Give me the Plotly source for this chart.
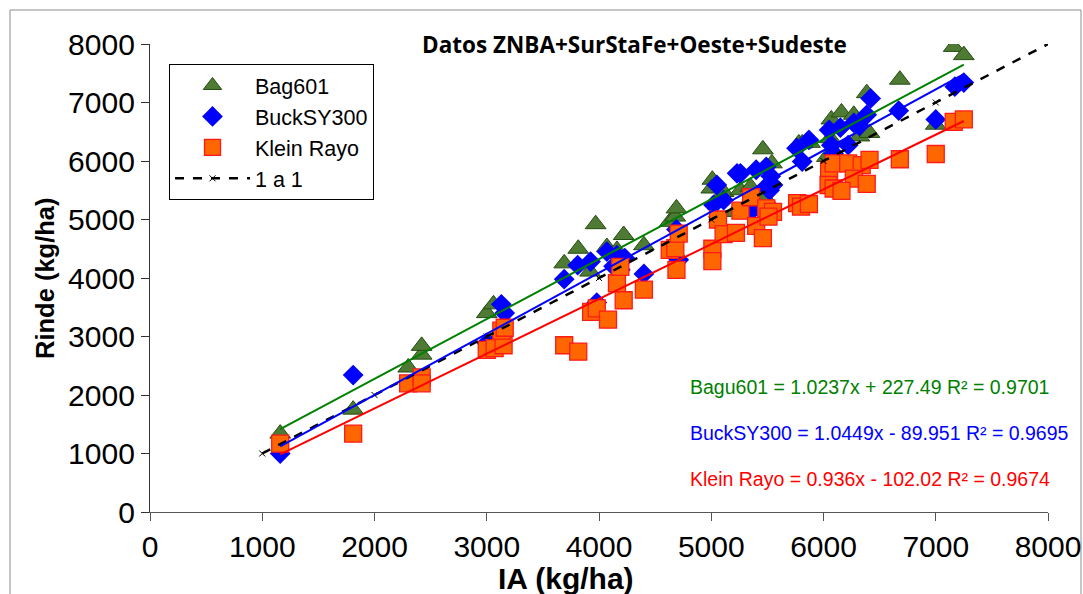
import numpy as np
import plotly.graph_objects as go

# ---------------- data ----------------
bag_x = [1160, 1810, 2300, 2420, 2420, 3000, 3060, 3690, 3815, 3920, 3970, 4070, 4160, 4220,
         4400, 4630, 4680, 4690, 5010, 5000, 5110, 5210, 5260, 5350, 5460, 5480, 5540, 5780,
         5810, 5880, 6030, 6060, 6070, 6160, 6270, 6320, 6410, 6385, 6680, 7000, 7160, 7250]
bag_y = [1340, 1750, 2470, 2690, 2840, 3400, 3550, 4250, 4500, 4110, 4920, 4530, 4480, 4735,
         4560, 4960, 5050, 5190, 5680, 5530, 5470, 5130, 5500, 5560, 6200, 5370, 5960, 6300,
         6300, 6310, 6070, 6390, 6710, 6830, 6790, 6420, 6480, 7160, 7390, 6620, 7950, 7810]

buck_x = [1160, 1810, 3000, 3060, 3130, 3160, 3690, 3810, 3925, 3980, 4070, 4130, 4160, 4190,
          4230, 4400, 4690, 4710, 5020, 5050, 5110, 5230, 5260, 5360, 5400, 5490, 5530, 5490,
          5520, 5550, 5760, 5810, 5870, 6050, 6070, 6090, 6150, 6220, 6270, 6320, 6385, 6420,
          6670, 7000, 7170, 7250]
buck_y = [1000, 2340, 2890, 2870, 3550, 3400, 3980, 4220, 4280, 3580, 4450, 4200, 4390, 4140,
          4340, 4070, 4830, 4310, 5250, 5590, 5330, 5790, 5790, 5150, 5850, 5900, 5740, 5560,
          5500, 5590, 6220, 5990, 6360, 6530, 6270, 6130, 6570, 6270, 6650, 6600, 6790, 7070,
          6860, 6710, 7270, 7340]

klein_x = [1160, 1810, 2300, 2420, 2420, 3000, 3070, 3150, 3130, 3160, 3690, 3815, 3930, 3980,
           4080, 4160, 4190, 4220, 4400, 4630, 4680, 4690, 4710, 5010, 5010, 5060, 5110, 5220,
           5260, 5355, 5400, 5460, 5490, 5550, 5510, 5765, 5800, 5870, 6050, 6090, 6220, 6340,
           6410, 6270, 6385, 6045, 6090, 6160, 6680, 7000, 7160, 7250]
klein_y = [1170, 1340, 2200, 2300, 2200, 2770, 2800, 2850, 3100, 3150, 2850, 2740, 3420, 3480,
           3290, 3910, 4190, 3620, 3800, 4480, 4510, 4140, 4760, 4500, 4290, 5000, 4750, 4770,
           5150, 5380, 4890, 4680, 5190, 5130, 5050, 5280, 5220, 5265, 5850, 5960, 5960, 5930,
           6020, 5700, 5610, 5590, 5530, 5490, 6030, 6120, 6670, 6710]

one_to_one = [1000, 2000, 3000, 4000, 5000, 6000, 7000, 8000]

series_names = ["Bag601", "BuckSY300", "Klein Rayo"]
slopes = [1.0237, 1.0449, 0.936]
intercepts = [227.49, -89.951, -102.02]
r2 = [0.9701, 0.9695, 0.9674]
eq_labels = ["Bagu601 = 1.0237x + 227.49 R² = 0.9701",
             "BuckSY300 = 1.0449x - 89.951 R² = 0.9695",
             "Klein Rayo = 0.936x - 102.02 R² = 0.9674"]
ticks = [0, 1000, 2000, 3000, 4000, 5000, 6000, 7000, 8000]

# ---------------- figure ----------------
fig = go.Figure()

fig.add_trace(go.Scatter(x=bag_x, y=bag_y, mode="markers", name=series_names[0],
                         marker=dict(symbol="triangle-up", size=18, color="#4F7A33",
                                     line=dict(color="#244D12", width=1))))
fig.add_trace(go.Scatter(x=buck_x, y=buck_y, mode="markers", name=series_names[1],
                         marker=dict(symbol="diamond", size=16, color="#0000FF",
                                     line=dict(color="#0000FF", width=0))))
fig.add_trace(go.Scatter(x=klein_x, y=klein_y, mode="markers", name=series_names[2],
                         marker=dict(symbol="square", size=17, color="#FF6600",
                                     line=dict(color="#FF1A1A", width=1.3))))
fig.add_trace(go.Scatter(x=one_to_one, y=one_to_one, mode="lines+markers", name="1 a 1",
                         line=dict(color="black", width=2.5, dash="dash"),
                         marker=dict(symbol="x-thin", size=6, color="black",
                                     line=dict(color="black", width=1))))

line_colors = ["#008000", "#0000FF", "#FF0000"]
eq_colors = ["#008000", "#0000FF", "#FF0000"]
for xs, m, b, c in zip([bag_x, buck_x, klein_x], slopes, intercepts, line_colors):
    xx = np.array([min(xs), max(xs)], dtype=float)
    fig.add_trace(go.Scatter(x=xx, y=m * xx + b, mode="lines", showlegend=False,
                             hoverinfo="skip", line=dict(color=c, width=2)))

# equation annotations
eq_y_px = [387, 433, 479]
for lab, c, py in zip(eq_labels, eq_colors, eq_y_px):
    fig.add_annotation(text=lab, x=(688 - 150) / 898, y=(512 - py) / 468,
                       xref="paper", yref="paper", xanchor="left", yanchor="middle",
                       showarrow=False,
                       font=dict(family="Liberation Sans, Arial", size=19.5, color=c))

# title
fig.add_annotation(text="<b>Datos ZNBA+SurStaFe+Oeste+Sudeste</b>",
                   x=(634 - 150) / 898, y=(512 - 44) / 468, xref="paper", yref="paper",
                   xanchor="center", yanchor="middle", showarrow=False,
                   font=dict(family="Open Sans, Lato, sans-serif", size=22.5, color="black"))

# axis titles
fig.add_annotation(text="<b>Rinde (kg/ha)</b>", x=(45 - 150) / 898, y=(512 - 278) / 468,
                   xref="paper", yref="paper", xanchor="center", yanchor="middle",
                   textangle=-90, showarrow=False,
                   font=dict(family="Liberation Sans, Arial", size=25.5, color="black"))
fig.add_annotation(text="<b>IA (kg/ha)</b>", x=(566 - 150) / 898, y=(512 - 578) / 468,
                   xref="paper", yref="paper", xanchor="center", yanchor="middle",
                   showarrow=False,
                   font=dict(family="Liberation Sans, Arial", size=30, color="black"))

# outer chart border
fig.add_shape(type="rect", xref="paper", yref="paper",
              x0=(10 - 150) / 898, x1=(1081 - 150) / 898,
              y0=(512 - 600) / 468, y1=(512 - 10) / 468,
              line=dict(color="#8C8C8C", width=1), fillcolor="rgba(0,0,0,0)", layer="below")

fig.update_layout(
    width=1083, height=594,
    margin=dict(l=150, r=35, t=44, b=82, autoexpand=False),
    paper_bgcolor="white", plot_bgcolor="white",
    showlegend=True,
    legend=dict(x=(169 - 150) / 898, y=(512 - 64) / 468, xanchor="left", yanchor="top",
                bordercolor="black", borderwidth=1, bgcolor="white",
                font=dict(family="Liberation Sans, Arial", size=21.5, color="black"),
                tracegroupgap=0, itemwidth=75),
    xaxis=dict(range=[0, 8000], tickvals=ticks, ticks="outside", ticklen=8,
               tickcolor="#555555", showline=True, linecolor="#555555", linewidth=1.3,
               showgrid=False, zeroline=False, automargin=False,
               tickfont=dict(family="Liberation Sans, Arial", size=30, color="black")),
    yaxis=dict(range=[0, 8000], tickvals=ticks, ticks="outside", ticklen=8,
               tickcolor="#333333", showline=True, linecolor="#333333", linewidth=1.3,
               showgrid=False, zeroline=False, automargin=False,
               tickfont=dict(family="Liberation Sans, Arial", size=30, color="black")),
)

fig.write_html("out.html", config={"displayModeBar": False},
               post_script="document.body.style.margin='0';")
